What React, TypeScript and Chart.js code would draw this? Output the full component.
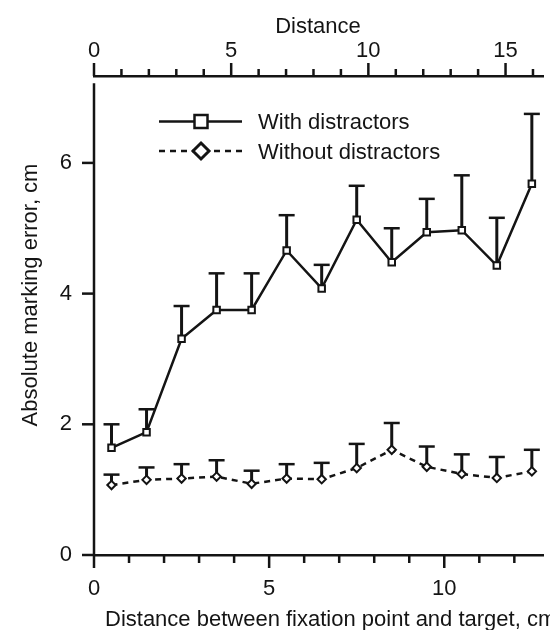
import React, { useEffect, useRef } from 'react';
import { Chart, registerables } from 'chart.js';

Chart.register(...registerables);

const distances = [0.5, 1.5, 2.5, 3.5, 4.5, 5.5, 6.5, 7.5, 8.5, 9.5, 10.5, 11.5, 12.5];
const withDistractors = [1.64, 1.88, 3.31, 3.75, 3.75, 4.66, 4.08, 5.13, 4.48, 4.94, 4.97, 4.43, 5.68];
const withDistractorsErr = [0.36, 0.35, 0.5, 0.56, 0.56, 0.54, 0.36, 0.52, 0.52, 0.51, 0.84, 0.73, 1.07];
const withoutDistractors = [1.07, 1.15, 1.17, 1.2, 1.09, 1.17, 1.16, 1.33, 1.61, 1.35, 1.24, 1.18, 1.28];
const withoutDistractorsErr = [0.16, 0.19, 0.22, 0.25, 0.2, 0.22, 0.25, 0.37, 0.41, 0.31, 0.3, 0.32, 0.33];

const bottomTicks = [0, 5, 10];
const topTicks = [0, 5, 10, 15];
const yTicks = [0, 2, 4, 6];

const seriesLabels = ['With distractors', 'Without distractors'];
const xTitle = 'Distance between fixation point and target, cm';
const x2Title = 'Distance';
const yTitle = 'Absolute marking error, cm';

const INK = '#141414';
const FONT_FAMILY = "'Liberation Sans', Arial, Helvetica, sans-serif";
const FONT_SIZE = 22;

const errorsByDataset = [withDistractorsErr, withoutDistractorsErr];

const decorPlugin = {
  id: 'decor',
  beforeDatasetsDraw(chart: any) {
    const ctx = chart.ctx;
    const ys = chart.scales.y;
    ctx.save();
    ctx.strokeStyle = INK;
    ctx.lineCap = 'butt';
    chart.data.datasets.forEach((ds: any, di: number) => {
      const meta = chart.getDatasetMeta(di);
      const errs = errorsByDataset[di];
      meta.data.forEach((pt: any, i: number) => {
        const v = ds.data[i].y;
        const yTop = ys.getPixelForValue(v + errs[i]);
        ctx.lineWidth = 3;
        ctx.beginPath();
        ctx.moveTo(pt.x, pt.y);
        ctx.lineTo(pt.x, yTop);
        ctx.stroke();
        ctx.lineWidth = 2.5;
        ctx.beginPath();
        ctx.moveTo(pt.x - 8, yTop);
        ctx.lineTo(pt.x + 8, yTop);
        ctx.stroke();
      });
    });
    ctx.restore();
  },
  afterDraw(chart: any) {
    const ctx = chart.ctx;
    const area = chart.chartArea;
    const xs = chart.scales.x;
    const x2 = chart.scales.x2;
    const ys = chart.scales.y;
    ctx.save();
    ctx.strokeStyle = INK;
    ctx.fillStyle = INK;
    ctx.lineWidth = 2.5;
    ctx.lineCap = 'butt';

    // left axis line (starts slightly below the top axis)
    ctx.beginPath();
    ctx.moveTo(area.left, ys.getPixelForValue(7.22));
    ctx.lineTo(area.left, area.bottom);
    ctx.stroke();

    // bottom ticks
    for (let v = 0; v <= xs.max; v += 1) {
      const px = xs.getPixelForValue(v);
      const len = v % 5 === 0 ? 13 : 8;
      ctx.beginPath();
      ctx.moveTo(px, area.bottom);
      ctx.lineTo(px, area.bottom + len);
      ctx.stroke();
    }
    // top ticks
    for (let v = 0; v <= x2.max; v += 1) {
      const px = x2.getPixelForValue(v);
      const len = v % 5 === 0 ? 13 : 7;
      ctx.beginPath();
      ctx.moveTo(px, area.top);
      ctx.lineTo(px, area.top - len);
      ctx.stroke();
    }
    // left ticks
    yTicks.forEach((v) => {
      const py = ys.getPixelForValue(v);
      ctx.beginPath();
      ctx.moveTo(area.left - 12, py);
      ctx.lineTo(area.left, py);
      ctx.stroke();
    });

    // titles
    ctx.font = `${FONT_SIZE}px ${FONT_FAMILY}`;
    ctx.textBaseline = 'alphabetic';
    ctx.textAlign = 'left';
    ctx.fillText(xTitle, 105, 626);
    ctx.textAlign = 'center';
    ctx.fillText(x2Title, 318, 33);
    ctx.save();
    ctx.translate(37, 295);
    ctx.rotate(-Math.PI / 2);
    ctx.textAlign = 'center';
    ctx.fillText(yTitle, 0, 0);
    ctx.restore();

    // legend
    const lx0 = 159;
    const lx1 = 242;
    const mx = 201;
    const ly1 = 121.5;
    const ly2 = 151;
    ctx.lineWidth = 2.5;
    ctx.beginPath();
    ctx.moveTo(lx0, ly1);
    ctx.lineTo(lx1, ly1);
    ctx.stroke();
    ctx.fillStyle = '#fff';
    ctx.fillRect(mx - 6.5, ly1 - 6.5, 13, 13);
    ctx.strokeRect(mx - 6.5, ly1 - 6.5, 13, 13);

    ctx.setLineDash([6, 5]);
    ctx.beginPath();
    ctx.moveTo(lx0, ly2);
    ctx.lineTo(lx1, ly2);
    ctx.stroke();
    ctx.setLineDash([]);
    ctx.beginPath();
    ctx.moveTo(mx, ly2 - 8);
    ctx.lineTo(mx + 8, ly2);
    ctx.lineTo(mx, ly2 + 8);
    ctx.lineTo(mx - 8, ly2);
    ctx.closePath();
    ctx.fill();
    ctx.lineWidth = 3;
    ctx.stroke();

    ctx.fillStyle = INK;
    ctx.textAlign = 'left';
    ctx.textBaseline = 'alphabetic';
    ctx.fillText(seriesLabels[0], 258, 129);
    ctx.fillText(seriesLabels[1], 258, 159);
    ctx.restore();
  },
};

export default function App() {
  const canvasRef = useRef<HTMLCanvasElement | null>(null);

  useEffect(() => {
    const canvas = canvasRef.current;
    if (!canvas) return;
    const font = { family: FONT_FAMILY, size: FONT_SIZE };
    const gridOpts = { display: true, drawOnChartArea: false, drawTicks: false };
    const chart = new Chart(canvas, {
      type: 'line',
      data: {
        datasets: [
          {
            label: seriesLabels[0],
            data: distances.map((x, i) => ({ x, y: withDistractors[i] })),
            borderColor: INK,
            borderWidth: 2.5,
            pointStyle: 'rect',
            pointRadius: 4.6,
            pointBorderWidth: 2,
            pointBackgroundColor: '#fff',
            pointBorderColor: INK,
            tension: 0,
            xAxisID: 'x',
            yAxisID: 'y',
          },
          {
            label: seriesLabels[1],
            data: distances.map((x, i) => ({ x, y: withoutDistractors[i] })),
            borderColor: INK,
            borderWidth: 2.5,
            borderDash: [6, 5],
            pointStyle: 'rectRot',
            pointRadius: 4.2,
            pointBorderWidth: 2,
            pointBackgroundColor: '#fff',
            pointBorderColor: INK,
            tension: 0,
            xAxisID: 'x',
            yAxisID: 'y',
          },
        ],
      },
      options: {
        responsive: false,
        animation: false,
        devicePixelRatio: 1,
        layout: { padding: 0 },
        plugins: {
          legend: { display: false },
          tooltip: { enabled: false },
        },
        scales: {
          x: {
            type: 'linear',
            position: 'bottom',
            min: 0,
            max: 12.83,
            afterBuildTicks: (s: any) => {
              s.ticks = bottomTicks.map((v) => ({ value: v }));
            },
            afterFit: (s: any) => {
              s.height = 75;
            },
            grid: gridOpts,
            border: { display: true, color: INK, width: 2.5 },
            ticks: { padding: 21, color: INK, font, maxRotation: 0 },
          },
          x2: {
            type: 'linear',
            position: 'top',
            display: true,
            min: 0,
            max: 16.38,
            afterBuildTicks: (s: any) => {
              s.ticks = topTicks.map((v) => ({ value: v }));
            },
            afterFit: (s: any) => {
              s.height = 76;
            },
            grid: gridOpts,
            border: { display: true, color: INK, width: 2.5 },
            ticks: { padding: 12, color: INK, font, maxRotation: 0 },
          },
          y: {
            type: 'linear',
            position: 'left',
            min: 0,
            max: 7.33,
            afterBuildTicks: (s: any) => {
              s.ticks = yTicks.map((v) => ({ value: v }));
            },
            afterFit: (s: any) => {
              s.width = 94;
            },
            grid: gridOpts,
            border: { display: false },
            ticks: { padding: 22, color: INK, font },
          },
        },
      } as any,
      plugins: [decorPlugin],
    });
    return () => chart.destroy();
  }, []);

  return (
    <div style={{ position: 'absolute', left: 0, top: 0, width: 550, height: 630, background: '#fff' }}>
      <canvas ref={canvasRef} width={550} height={630} style={{ display: 'block' }} />
    </div>
  );
}
